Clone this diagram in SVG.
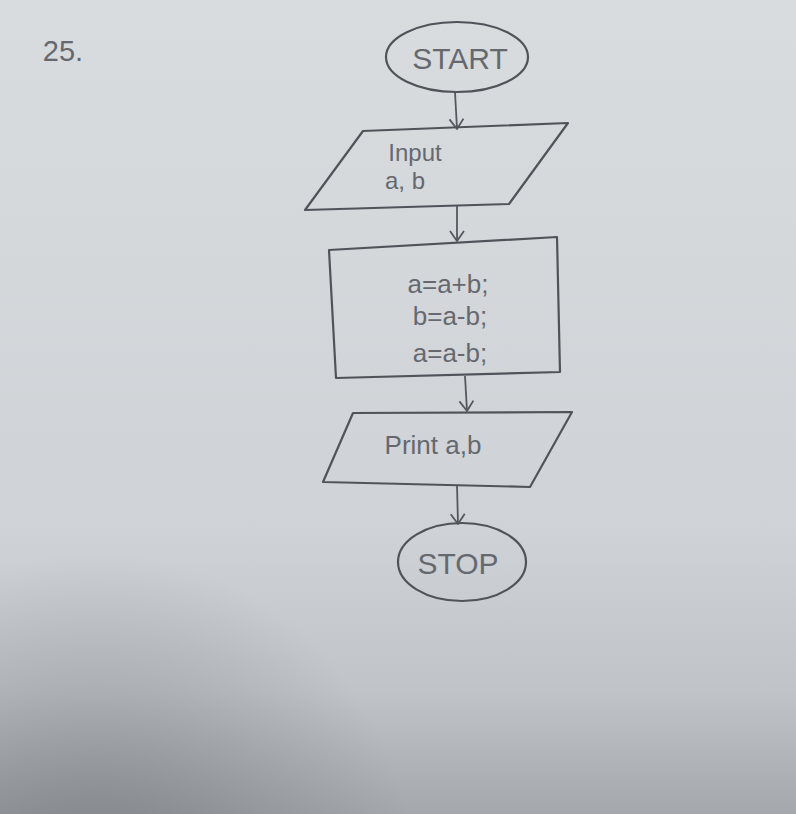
<svg xmlns="http://www.w3.org/2000/svg" width="796" height="814" viewBox="0 0 796 814">
  <defs>
    <linearGradient id="paper" x1="0" y1="0" x2="0" y2="1">
      <stop offset="0" stop-color="#d9dcdf"/>
      <stop offset="0.65" stop-color="#cfd2d6"/>
      <stop offset="0.85" stop-color="#c0c4c8"/>
      <stop offset="1" stop-color="#a4a8ad"/>
    </linearGradient>
    <radialGradient id="shade" cx="0.12" cy="1.08" r="0.4">
      <stop offset="0" stop-color="#55595e" stop-opacity="0.45"/>
      <stop offset="1" stop-color="#55595e" stop-opacity="0"/>
    </radialGradient>
    <marker id="arrow" viewBox="0 0 16 16" refX="14" refY="8" markerWidth="16" markerHeight="16" markerUnits="userSpaceOnUse" orient="auto">
      <path d="M4,1 L14,8 L4,15" fill="none" stroke="#55595f" stroke-width="1.8" stroke-linejoin="round"/>
    </marker>
    <style>
      .shape { fill: none; stroke: #50545a; stroke-width: 2.2; stroke-linejoin: round; }
      .conn { fill: none; stroke: #55595f; stroke-width: 1.8; marker-end: url(#arrow); }
      .lbl { font-family: "Liberation Sans", "DejaVu Sans", sans-serif; fill: #65696f; text-anchor: middle; }
    </style>
  </defs>
  <rect x="0" y="0" width="796" height="814" fill="url(#paper)"/>
  <rect x="0" y="0" width="796" height="814" fill="url(#shade)"/>

  <g id="label-25">
    <text x="63" y="61" class="lbl" font-size="29" fill="#4a4e54">25.</text>
  </g>

  <g id="connectors">
    <line x1="455" y1="92" x2="457" y2="129" class="conn"/>
    <line x1="457" y1="206" x2="457" y2="241" class="conn"/>
    <line x1="465" y1="376" x2="467" y2="411" class="conn"/>
    <line x1="457" y1="485" x2="458" y2="524" class="conn"/>
  </g>

  <g id="start">
    <ellipse cx="457" cy="57" rx="71" ry="35" class="shape"/>
    <text x="460" y="69" class="lbl" font-size="30">START</text>
  </g>

  <g id="input">
    <polygon points="363,131 568,123 509,204 305,210" class="shape"/>
    <text x="415" y="161" class="lbl" font-size="24">Input</text>
    <text x="405" y="189" class="lbl" font-size="24">a, b</text>
  </g>

  <g id="process">
    <polygon points="329,250 557,237 560,372 336,378" class="shape"/>
    <text x="448" y="293" class="lbl" font-size="26">a=a+b;</text>
    <text x="450" y="325" class="lbl" font-size="26">b=a-b;</text>
    <text x="450" y="362" class="lbl" font-size="26">a=a-b;</text>
  </g>

  <g id="print">
    <polygon points="353,413 572,412 530,487 323,482" class="shape"/>
    <text x="433" y="454" class="lbl" font-size="26">Print a,b</text>
  </g>

  <g id="stop">
    <ellipse cx="462" cy="562" rx="64" ry="39" class="shape"/>
    <text x="458" y="574" class="lbl" font-size="30">STOP</text>
  </g>
</svg>
